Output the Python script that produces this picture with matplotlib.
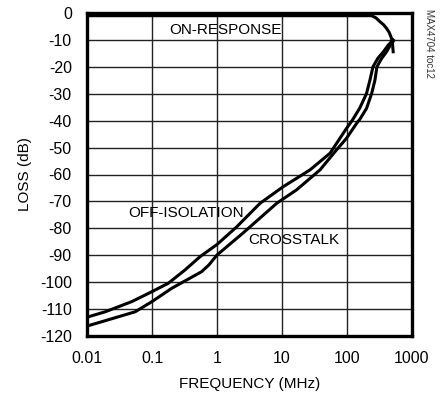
import numpy as np
import matplotlib
matplotlib.use("Agg")
import matplotlib.pyplot as plt

plt.rcParams['font.family'] = ['Liberation Sans', 'DejaVu Sans']
plt.rcParams['axes.unicode_minus'] = False

# Data
freq_off = np.array([0.01, 0.019, 0.049, 0.1, 0.178, 0.32, 0.55, 1.0, 2.0, 4.6, 10.5, 27, 55,
                     99, 120, 158, 200, 226, 252, 300, 365, 430, 516])
off_isolation = np.array([-113.0, -111.0, -107.2, -103.5, -100.4, -95.5, -90.5, -86.0, -79.5,
                          -70.7, -64.5, -58.3, -52.1, -42.8, -40.0, -35.3, -30.0, -25.0, -20.0,
                          -16.8, -14.4, -12.0, -10.0])
freq_xt = np.array([0.01, 0.021, 0.055, 0.1, 0.2, 0.58, 0.75, 1.0, 2.5, 8.3, 16.8, 38.5, 69, 99,
                    141, 158, 200, 240, 270, 290, 340, 408, 460, 516])
crosstalk = np.array([-116.3, -114.0, -111.0, -107.2, -102.3, -96.1, -93.6, -89.9, -81.8, -70.7,
                      -65.7, -58.3, -50.9, -46.5, -41.0, -39.5, -35.5, -30.0, -25.0, -20.0,
                      -17.0, -14.4, -12.2, -10.5])
freq_on = np.array([0.01, 1, 100, 240, 280, 322, 365, 408, 450, 486, 505, 516])
on_response = np.array([-1.0, -1.0, -1.0, -1.0, -1.8, -3.2, -4.3, -5.7, -7.3, -9.4, -11.8, -14.4])

x_ticks = [0.01, 0.1, 1, 10, 100, 1000]
x_tick_labels = ["0.01", "0.1", "1", "10", "100", "1000"]
y_ticks = list(range(0, -130, -10))

fig = plt.figure(figsize=(4.4, 4.0), dpi=100)
ax = fig.add_axes([0.198, 0.16, 0.738, 0.8075])

ax.semilogx(freq_off, off_isolation, color='black', lw=2.2, solid_joinstyle='round')
ax.semilogx(freq_xt, crosstalk, color='black', lw=2.2, solid_joinstyle='round')
ax.semilogx(freq_on, on_response, color='black', lw=2.2, solid_joinstyle='round')

ax.set_xlim(0.01, 1000)
ax.set_ylim(-120, 0)
ax.set_xticks(x_ticks)
ax.set_xticklabels(x_tick_labels)
ax.minorticks_off()
ax.set_yticks(y_ticks)
ax.grid(True, which='major', color='#222222', lw=1.0)
ax.tick_params(length=0, labelsize=11.5, pad=11)
for s in ax.spines.values():
    s.set_linewidth(2.4)

ax.set_xlabel("FREQUENCY (MHz)", fontsize=11, labelpad=8)
ax.set_ylabel("LOSS (dB)", fontsize=11, labelpad=6)

ax.text(1.37, -6.3, "ON-RESPONSE", fontsize=11, ha='center', va='center')
ax.text(0.33, -74.3, "OFF-ISOLATION", fontsize=11, ha='center', va='center')
ax.text(15, -84.4, "CROSSTALK", fontsize=11, ha='center', va='center')

fig.text(0.975, 0.978, "MAX4704 toc12", rotation=270, fontsize=7, ha='center', va='top',
         color='#333333')

fig.savefig("out.png", dpi=100)
